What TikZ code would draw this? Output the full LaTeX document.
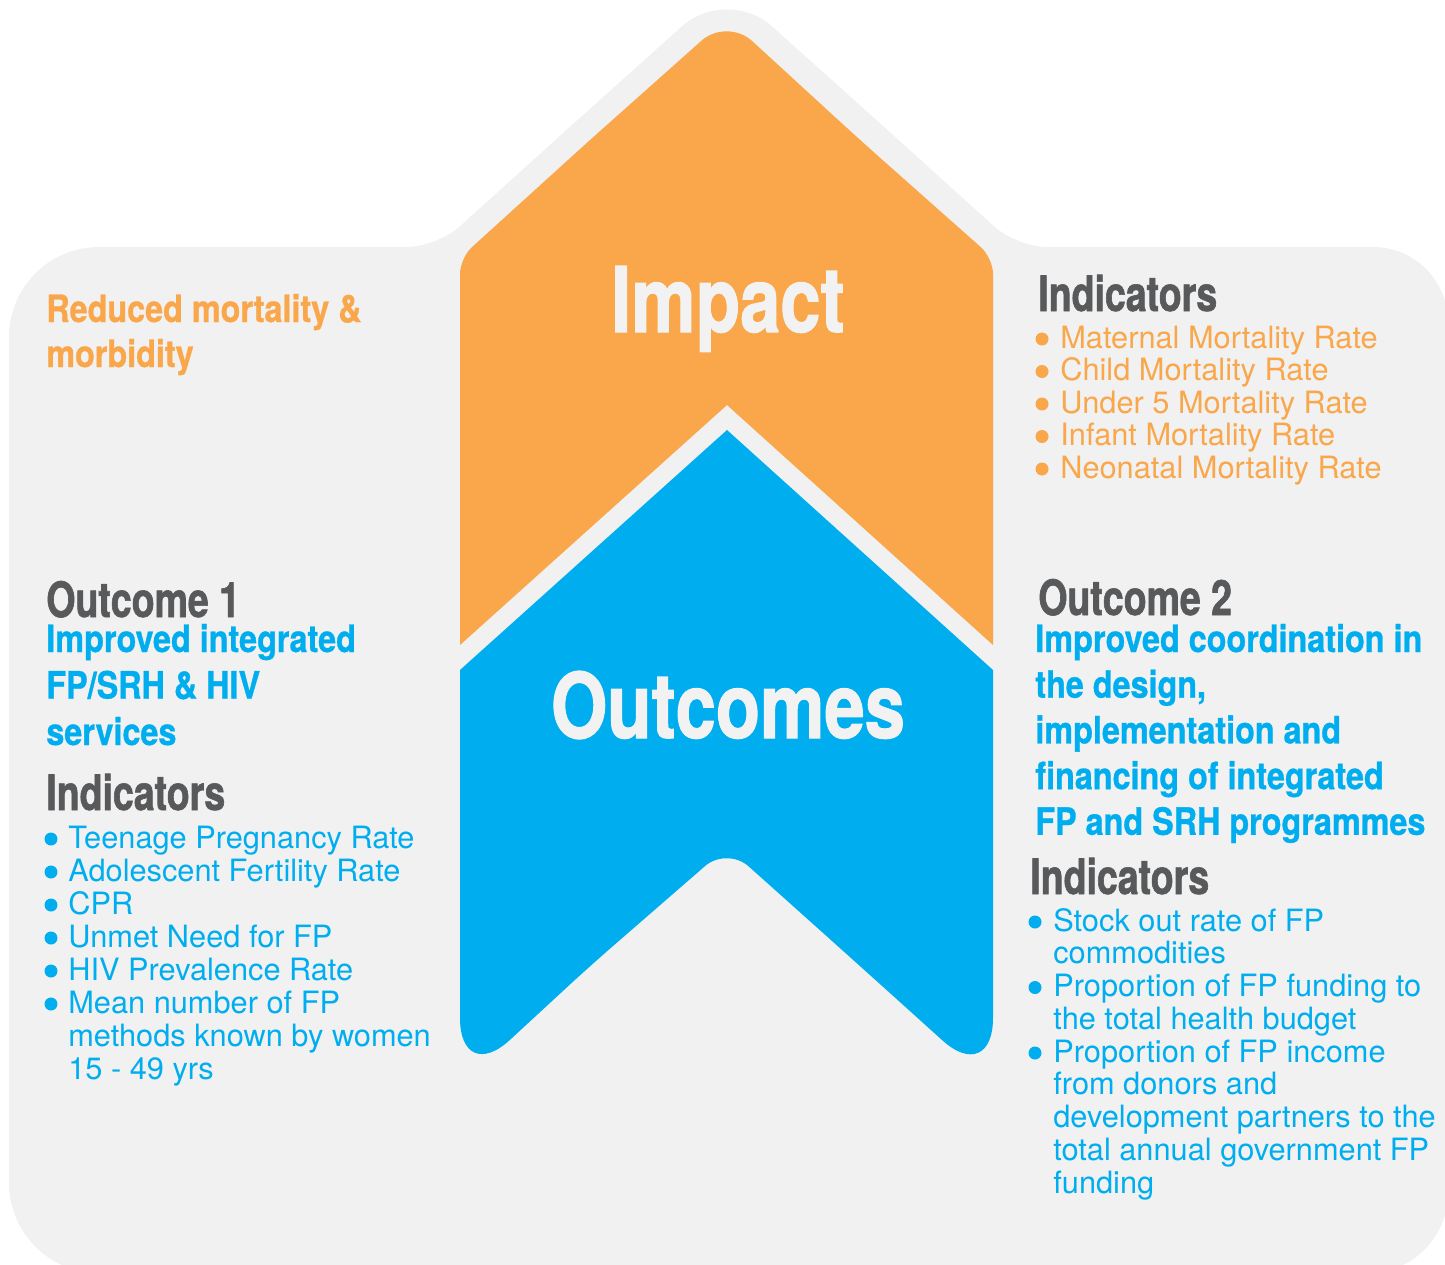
\documentclass[tikz,border=0pt]{standalone}
\usepackage{fontspec}
\setmainfont{TeX Gyre Heros}
\newfontfamily\headfont{TeX Gyre Heros}[FakeStretch=0.77, FakeBold=1.2]
\newfontfamily\subfont{TeX Gyre Heros}[FakeStretch=0.86, FakeBold=0.8]
\newfontfamily\bigfont{TeX Gyre Heros}[FakeStretch=0.80, FakeBold=1.2]
\usepackage{xcolor}
\usepackage{tikz}

\definecolor{bggray}{HTML}{F1F1F1}
\definecolor{impactorange}{HTML}{F9A74A}
\definecolor{outcomeblue}{HTML}{00AEEF}
\definecolor{headgray}{HTML}{58595B}
\definecolor{offwhite}{HTML}{F2F2F2}

\begin{document}
\begin{tikzpicture}[x=0.02cm, y=-0.02cm]
\tikzstyle{bigtext}=[text=offwhite, font=\bigfont\bfseries\fontsize{51.5}{52}\selectfont, anchor=base, inner sep=0]
\tikzstyle{headtext}=[text=headgray, font=\headfont\bfseries\fontsize{27.7}{30}\selectfont, anchor=base west, inner sep=0]
\tikzstyle{subtext}=[font=\subfont\bfseries\fontsize{21.4}{26}\selectfont, anchor=base west, inner sep=0]
\tikzstyle{itemtext}=[font=\fontsize{17.5}{19}\selectfont, anchor=base west, inner sep=0]
\tikzstyle{bulletdot}=[circle, inner sep=0, minimum size=0.26cm]

\useasboundingbox (0,0) rectangle (1445,1265);
\clip (0,0) rectangle (1445,1265);

% grey backdrop
\fill[bggray] (9,700) -- (9,500) [rounded corners=1.8cm] -- (9,247) -- (200,247)
  [rounded corners=0.6cm] -- (437,247) -- (582,116)
  [rounded corners=1.2cm] -- (727,-14) -- (872,116)
  [rounded corners=0.6cm] -- (1017,247) -- (1200,247)
  [rounded corners=1.5cm] -- (1448,247) -- (1448,700)
  [rounded corners=1.6cm] -- (1448,1273) -- (700,1273)
  [rounded corners=1.8cm] -- (9,1273) -- (9,900) [sharp corners] -- cycle;

% impact arrow
\fill[impactorange] (460,645) -- (460,450) [rounded corners=0.32cm] -- (460,258) -- (590,140)
  [rounded corners=0.68cm] -- (727,18) -- (860,140)
  [rounded corners=0.32cm] -- (993,258) -- (993,450) [sharp corners] -- (993,645) -- (727,405) -- cycle;

% outcomes arrow
\fill[outcomeblue] (460,900) -- (460,670) -- (727,430) -- (993,670) -- (993,850)
  [rounded corners=1.36cm] -- (993,1086) -- (860,966)
  [rounded corners=0.58cm] -- (727,847) -- (590,966)
  [rounded corners=1.36cm] -- (460,1086) -- (460,950) [sharp corners] -- cycle;

\node[bigtext] (impact) at (728,332) {Impact};
\node[bigtext] (outcomes) at (728,738) {Outcomes};

% impact side
\node[subtext, text=impactorange] (reduced) at (46,322) {Reduced mortality \&};
\node[subtext, text=impactorange] (morbidity) at (46,367) {morbidity};

\node[headtext] (impind) at (1038,311) {Indicators};
\foreach \txt [count=\i] in {Maternal Mortality Rate, Child Mortality Rate, Under 5 Mortality Rate, Infant Mortality Rate, Neonatal Mortality Rate} {
  \node[itemtext, text=impactorange] (impitem\i) at (1060,315.5+32.5*\i) {\txt};
  \node[bulletdot, fill=impactorange] (impdot\i) at (1042,306.5+32.5*\i) {};
}

% outcome 1
\node[headtext] (outone) at (46,617) {Outcome 1};
\foreach \txt [count=\i] in {Improved integrated, FP/SRH \& HIV, services}
  \node[subtext, text=outcomeblue] (outonesub\i) at (46,605.5+46.5*\i) {\txt};
\node[headtext] (outoneind) at (46,810) {Indicators};
\foreach \txt [count=\i] in {Teenage Pregnancy Rate, Adolescent Fertility Rate, CPR, Unmet Need for FP, HIV Prevalence Rate, Mean number of FP, methods known by women, 15 - 49 yrs}
  \node[itemtext, text=outcomeblue] (outoneitem\i) at (68,815+33*\i) {\txt};
\foreach \i in {1,...,6}
  \node[bulletdot, fill=outcomeblue] (outonedot\i) at (51,806+33*\i) {};

% outcome 2
\node[headtext] (outtwo) at (1038,615) {Outcome 2};
\foreach \txt [count=\i] in {Improved coordination in, {the design,}, implementation and, financing of integrated, FP and SRH programmes}
  \node[subtext, text=outcomeblue] (outtwosub\i) at (1035,606.3+45.7*\i) {\txt};
\node[headtext] (outtwoind) at (1030,894) {Indicators};
\foreach \txt [count=\i] in {Stock out rate of FP, commodities, Proportion of FP funding to, the total health budget, Proportion of FP income, from donors and, development partners to the, total annual government FP, funding}
  \node[itemtext, text=outcomeblue] (outtwoitem\i) at (1053,898.25+32.75*\i) {\txt};
\foreach \i in {1,3,5}
  \node[bulletdot, fill=outcomeblue] (outtwodot\i) at (1035,889.25+32.75*\i) {};
\end{tikzpicture}
\end{document}
